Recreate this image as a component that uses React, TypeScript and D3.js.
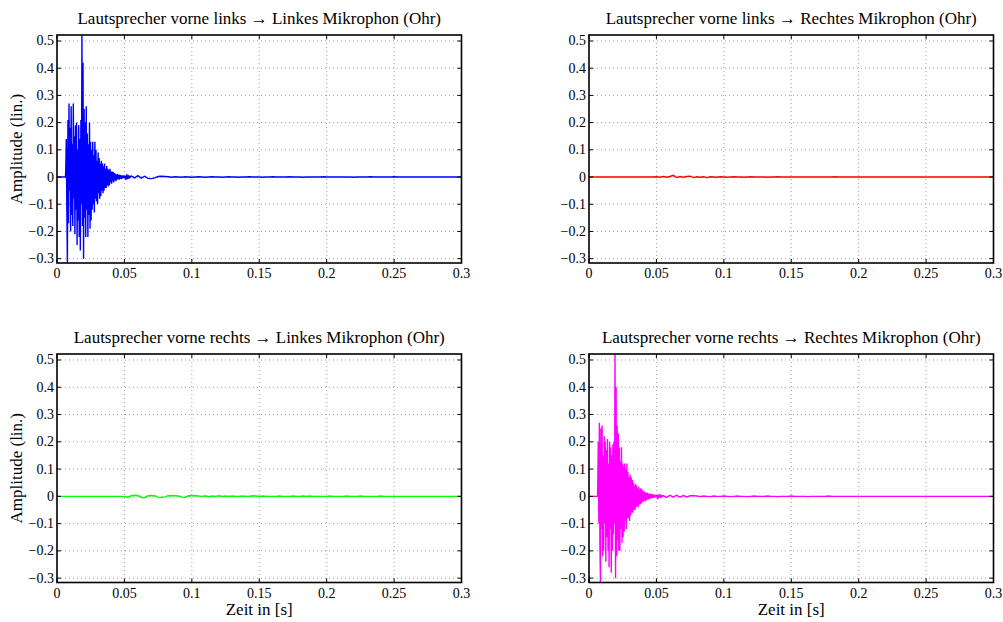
import React from "react";
import * as d3 from "d3";

// ---- data ----
const xTicks = [0, 0.05, 0.1, 0.15, 0.2, 0.25, 0.3];
const yTicks = [-0.3, -0.2, -0.1, 0, 0.1, 0.2, 0.3, 0.4, 0.5];
const xDomain = [0, 0.3];
const yDomain = [-0.316, 0.522];

const titles = [
  "Lautsprecher vorne links \u2192 Linkes Mikrophon (Ohr)",
  "Lautsprecher vorne links \u2192 Rechtes Mikrophon (Ohr)",
  "Lautsprecher vorne rechts \u2192 Linkes Mikrophon (Ohr)",
  "Lautsprecher vorne rechts \u2192 Rechtes Mikrophon (Ohr)",
];
const colors = ["#0000ff", "#ff0000", "#00ff00", "#ff00ff"];

// dense part: starts at denseStart, sample step denseStep
const denseStart = 0.0065;
const denseStep = 0.0004;
const blueDense = [
  0.03, 0.14, -0.12, -0.315, 0.21, -0.17, 0.27, -0.05, 0.18, -0.2,
  0.26, -0.14, 0.12, -0.18, 0.27, -0.08, 0.15, -0.21, 0.19, -0.12,
  0.2, -0.25, 0.1, -0.16, 0.19, -0.22, 0.14, -0.27, 0.21, -0.1,
  0.52, -0.18, 0.42, -0.3, 0.25, -0.15, 0.2, -0.22, 0.26, -0.12,
  0.16, -0.22, 0.12, -0.14, 0.2, -0.19, 0.13, -0.16, 0.1, -0.12,
  0.13, -0.1, 0.08, -0.13, 0.13, -0.08, 0.1, -0.09, 0.06, -0.1,
  0.09, -0.06, 0.07, -0.08, 0.05, -0.07, 0.06, -0.05, 0.05, -0.06,
  0.04, -0.05, 0.05, -0.04, 0.03, -0.04, 0.04, -0.03, 0.03, -0.035,
  0.025, -0.03, 0.03, -0.02, 0.02, -0.025, 0.02, -0.015, 0.018, -0.02,
  0.015, -0.012, 0.012, -0.015, 0.01, -0.01, 0.012, -0.008, 0.008, -0.01,
  0.008, -0.006, 0.007, -0.008, 0.005, -0.005, 0.006, -0.004, 0.005, -0.005,
  0.004, -0.003, 0.004, -0.004, 0.003, -0.003, 0.003, -0.002, 0.002, -0.002,
];
const magentaDense = [
  0.04, 0.2, -0.1, 0.27, -0.18, -0.315, 0.25, -0.12, 0.26, -0.22,
  0.15, -0.2, 0.22, -0.1, 0.2, -0.24, 0.17, -0.15, 0.21, -0.2,
  0.12, -0.26, 0.2, -0.12, 0.18, -0.28, 0.15, -0.2, 0.19, -0.14,
  0.2, -0.1, 0.52, -0.3, 0.4, -0.22, 0.26, -0.16, 0.23, -0.2,
  0.18, -0.2, 0.13, -0.12, 0.18, -0.17, 0.12, -0.15, 0.11, -0.13,
  0.12, -0.09, 0.1, -0.12, 0.12, -0.08, 0.09, -0.08, 0.07, -0.09,
  0.08, -0.07, 0.07, -0.06, 0.06, -0.06, 0.05, -0.05, 0.04, -0.05,
  0.045, -0.04, 0.04, -0.035, 0.03, -0.04, 0.035, -0.03, 0.025, -0.03,
  0.03, -0.025, 0.025, -0.02, 0.02, -0.02, 0.018, -0.015, 0.015, -0.018,
  0.012, -0.012, 0.014, -0.01, 0.01, -0.011, 0.01, -0.008, 0.009, -0.008,
  0.007, -0.006, 0.008, -0.006, 0.006, -0.005, 0.005, -0.004, 0.005, -0.004,
  0.004, -0.004, 0.003, -0.003, 0.003, -0.002, 0.003, -0.002, 0.002, -0.001,
];

// tail part: starts at tailStart, sample step tailStep
const tailStart = 0.055;
const tailStep = 0.0025;
const blueTail = [
  0.004, -0.003, 0.005, -0.004, 0.003, -0.005, -0.006, -0.003, 0.002, 0.003,
  0.002, 0.001, -0.001, 0.001, 0.0, -0.001, 0.001, 0.0, -0.001, 0.0,
  0.001, 0.0, -0.001, 0.0, 0.001, 0.0, 0.0, -0.001, 0.0, 0.001,
  0.0, 0.0, -0.001, 0.0, 0.0, 0.001, 0.0, 0.0, 0.0, -0.001,
  0.0, 0.0, 0.001, 0.0, 0.0, 0.0, 0.0, 0.001, 0.0, 0.0,
  0.0, -0.001, 0.0, 0.0, 0.0, 0.0, 0.0, 0.001, 0.0, 0.0,
  0.0, 0.0, 0.0, 0.0, 0.0, 0.0, -0.001, 0.0, 0.0, 0.0,
  0.0, 0.001, 0.0, 0.0, 0.0, 0.0, 0.0, 0.0, 0.001, 0.0,
  0.0, 0.0, 0.0, 0.0, 0.0, 0.0, 0.0, 0.0, 0.0, 0.0,
  0.0, 0.0, 0.0, 0.0, 0.0, 0.0, 0.0, 0.0, 0.0,
];
const magentaTail = [
  0.003, -0.004, 0.004, -0.003, 0.004, -0.003, 0.003, -0.002, 0.002, 0.002,
  0.001, -0.001, 0.001, 0.0, -0.001, 0.001, 0.0, 0.0, 0.001, 0.0,
  -0.001, 0.0, 0.001, 0.0, 0.0, -0.001, 0.0, 0.001, 0.0, 0.0,
  0.0, 0.001, 0.0, 0.0, -0.001, 0.0, 0.0, 0.0, 0.001, 0.0,
  0.0, 0.0, 0.0, -0.001, 0.0, 0.0, 0.0, 0.0, 0.0, 0.001,
  0.0, 0.0, 0.0, 0.0, 0.0, 0.0, 0.0, 0.0, 0.0, 0.0,
  0.0, 0.0, 0.0, 0.0, 0.0, 0.0, 0.0, 0.0, 0.0, 0.0,
  0.0, 0.0, 0.0, 0.0, 0.0, 0.0, 0.0, 0.0, 0.0, 0.0,
  0.0, 0.0, 0.0, 0.0, 0.0, 0.0, 0.0, 0.0, 0.0, 0.0,
  0.0, 0.0, 0.0, 0.0, 0.0, 0.0, 0.0, 0.0, 0.0,
];

// crosstalk signals: from 0 with step crossStep
const crossStep = 0.0025;
const redValues = [
  0, 0, 0, 0, 0, 0, 0, 0, 0, 0,
  0, 0, 0, 0, 0, 0, 0, 0, 0, 0,
  0.001, -0.001, 0.002, -0.001, 0.002, 0.006, -0.002, 0.002, -0.001, 0.002,
  0.003, -0.002, 0.001, -0.001, 0.001, -0.002, 0.001, 0.0, -0.001, 0.001,
  0.0, -0.001, 0.0, 0.001, 0.0, 0.0, -0.001, 0.0, 0.001, 0.0,
  0.0, 0.0, 0.0, -0.001, 0.0, 0.0, 0.001, 0.0, 0.0, 0.0,
  0.0, 0.0, 0.0, 0.0, 0.0, 0.0, 0.0, 0.0, 0.0, 0.0,
  0.0, 0.0, 0.0, 0.001, 0.0, 0.0, 0.0, 0.0, 0.0, 0.0,
  0.0, 0.0, 0.0, 0.0, 0.0, 0.0, 0.0, 0.0, 0.0, 0.0,
  0.0, 0.0, 0.0, 0.0, 0.0, 0.0, 0.0, 0.0, 0.0, 0.0,
  0.0, 0.0, 0.0, 0.0, 0.0, 0.0, 0.0, 0.0, 0.0, 0.0,
  0.0, 0.0, 0.0, 0.0, 0.0, 0.0, 0.0, 0.0, 0.0, 0.0, 0.0,
];
const greenValues = [
  0, 0, 0, 0, 0, 0, 0, 0, 0, 0,
  0, 0, 0, 0, 0, 0, 0, 0, 0, 0,
  -0.001, -0.003, 0.002, 0.004, 0.003, -0.004, -0.005, 0.002, 0.003, 0.002,
  -0.003, -0.004, -0.002, 0.002, 0.003, 0.002, 0.001, -0.003, -0.004, 0.002,
  0.003, 0.002, 0.001, -0.001, 0.002, -0.002, 0.001, 0.0, 0.002, 0.0,
  0.001, 0.0, 0.001, 0.0, 0.0, 0.001, 0.0, 0.0, 0.002, 0.001,
  0.0, 0.001, 0.0, 0.0, 0.0, 0.0, 0.001, 0.0, 0.0, 0.0,
  0.001, 0.0, 0.0, 0.001, 0.0, 0.001, 0.0, 0.0, 0.0, 0.0,
  0.0, 0.001, 0.0, 0.0, 0.0, 0.0, 0.001, 0.0, 0.0, 0.0,
  0.001, 0.0, 0.0, 0.0, 0.0, 0.0, 0.001, 0.0, 0.0, 0.0,
  0.0, 0.0, 0.0, 0.0, 0.0, 0.0, 0.0, 0.0, 0.0, 0.0,
  0.0, 0.0, 0.0, 0.0, 0.0, 0.0, 0.0, 0.0, 0.0, 0.0, 0.0,
];

type Pt = [number, number];

function buildImpulse(dense: number[], tail: number[]): Pt[] {
  const pts: Pt[] = [[0, 0], [denseStart - 0.0002, 0]];
  dense.forEach((v, i) => pts.push([denseStart + i * denseStep, v]));
  tail.forEach((v, i) => pts.push([tailStart + i * tailStep, v]));
  pts.push([0.3, 0]);
  return pts;
}
function buildCross(vals: number[]): Pt[] {
  return vals.map((v, i) => [Math.min(0.3, i * crossStep), v] as Pt);
}

const series: Pt[][] = [
  buildImpulse(blueDense, blueTail),
  buildCross(redValues),
  buildCross(greenValues),
  buildImpulse(magentaDense, magentaTail),
];

const W = 1003;
const H = 622;
const panels = [
  { x0: 57, x1: 461.5, y0: 35, y1: 263, ylabel: true, xlabel: false },
  { x0: 589, x1: 993.5, y0: 35, y1: 263, ylabel: false, xlabel: false },
  { x0: 57, x1: 461.5, y0: 354, y1: 582.5, ylabel: true, xlabel: true },
  { x0: 589, x1: 993.5, y0: 354, y1: 582.5, ylabel: false, xlabel: true },
];

const FONT = "'Liberation Serif', 'Times New Roman', serif";

function fmt(v: number): string {
  if (v === 0) return "0";
  const s = String(Math.round(Math.abs(v) * 100) / 100);
  return v < 0 ? "\u2212" + s : s;
}

function Panel({ idx }: { idx: number }) {
  const p = panels[idx];
  const x = d3.scaleLinear().domain(xDomain).range([p.x0, p.x1]);
  const y = d3.scaleLinear().domain(yDomain).range([p.y1, p.y0]);
  const line = d3
    .line<Pt>()
    .x((d) => x(d[0]))
    .y((d) => y(Math.max(yDomain[0], Math.min(yDomain[1], d[1]))));
  const clipId = `clip${idx}`;
  const tl = 4;
  return (
    <g>
      <defs>
        <clipPath id={clipId}>
          <rect x={p.x0} y={p.y0} width={p.x1 - p.x0} height={p.y1 - p.y0} />
        </clipPath>
      </defs>
      <rect x={p.x0} y={p.y0} width={p.x1 - p.x0} height={p.y1 - p.y0} fill="#fff" />
      {xTicks.slice(1, -1).map((t) => (
        <line key={"gx" + t} x1={x(t)} x2={x(t)} y1={p.y0} y2={p.y1}
          stroke="#888" strokeWidth={0.8} strokeDasharray="1,3" />
      ))}
      {yTicks.map((t) => (
        <line key={"gy" + t} x1={p.x0} x2={p.x1} y1={y(t)} y2={y(t)}
          stroke="#888" strokeWidth={0.8} strokeDasharray="1,3" />
      ))}
      <path d={line(series[idx]) || ""} fill="none" stroke={colors[idx]}
        strokeWidth={1.4} clipPath={`url(#${clipId})`} />
      {xTicks.map((t) => (
        <g key={"tx" + t}>
          <line x1={x(t)} x2={x(t)} y1={p.y1} y2={p.y1 - tl} stroke="#000" />
          <line x1={x(t)} x2={x(t)} y1={p.y0} y2={p.y0 + tl} stroke="#000" />
          <text x={x(t)} y={p.y1 + 15} textAnchor="middle" fontSize={14}
            fontFamily={FONT} fill="#000">{fmt(t)}</text>
        </g>
      ))}
      {yTicks.map((t) => (
        <g key={"ty" + t}>
          <line x1={p.x0} x2={p.x0 + tl} y1={y(t)} y2={y(t)} stroke="#000" />
          <line x1={p.x1} x2={p.x1 - tl} y1={y(t)} y2={y(t)} stroke="#000" />
          <text x={p.x0 - 3} y={y(t) + 4.5} textAnchor="end" fontSize={14}
            fontFamily={FONT} fill="#000">{fmt(t)}</text>
        </g>
      ))}
      <rect x={p.x0} y={p.y0} width={p.x1 - p.x0} height={p.y1 - p.y0}
        fill="none" stroke="#000" strokeWidth={1.6} />
      <text x={(p.x0 + p.x1) / 2} y={p.y0 - 11} textAnchor="middle" fontSize={17}
        fontFamily={FONT} fill="#000">{titles[idx]}</text>
      {p.ylabel && (
        <text transform={`translate(22, ${(p.y0 + p.y1) / 2}) rotate(-90)`}
          textAnchor="middle" fontSize={17} fontFamily={FONT} fill="#000">
          Amplitude (lin.)
        </text>
      )}
      {p.xlabel && (
        <text x={(p.x0 + p.x1) / 2} y={p.y1 + 32} textAnchor="middle" fontSize={17}
          fontFamily={FONT} fill="#000">Zeit in [s]</text>
      )}
    </g>
  );
}

export default function App() {
  return (
    <svg width={W} height={H} style={{ position: "absolute", left: 0, top: 0, background: "#fff" }}>
      <rect width={W} height={H} fill="#fff" />
      {panels.map((_, i) => (
        <Panel key={i} idx={i} />
      ))}
    </svg>
  );
}
